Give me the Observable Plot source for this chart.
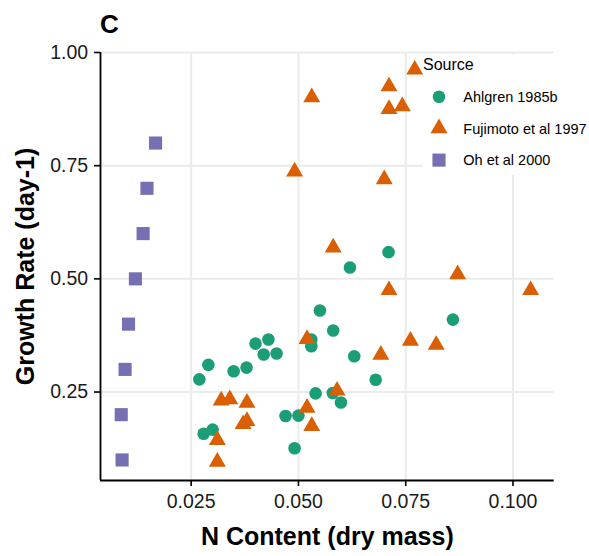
<!DOCTYPE html>
<html>
<head>
<meta charset="utf-8">
<script src="https://cdn.jsdelivr.net/npm/d3@7"></script>
<script src="https://cdn.jsdelivr.net/npm/@observablehq/plot@0.6"></script>
<style>
  html, body { margin: 0; padding: 0; background: white; }
  #wrap { position: relative; width: 589px; height: 556px; font-family: "Liberation Sans", Arial, sans-serif; }
  #title { position: absolute; left: 100px; top: 10.5px; font-size: 26px; font-weight: bold; line-height: 1; }
  #chart { position: absolute; left: 0; top: 40px; }
  #legend { position: absolute; left: 423px; top: 54px; width: 166px; height: 121px; background: white; }
</style>
</head>
<body>
<div id="wrap">
  <div id="title">C</div>
  <div id="chart"></div>
  <div id="legend"></div>
</div>
<script>
// ---- data ----
const sources = ["Ahlgren 1985b", "Fujimoto et al 1997", "Oh et al 2000"];
const colors = ["#1b9e77", "#d95f02", "#7570b3"];
const symbols = ["circle", "triangle", "square"];

const ahlgrenX = [0.0550, 0.0581, 0.0530, 0.0530, 0.0400, 0.0430, 0.0419, 0.0449, 0.0290, 0.0269,
                  0.0349, 0.0379, 0.0540, 0.0580, 0.0599, 0.0470, 0.0500, 0.0491, 0.0279, 0.0300,
                  0.0710, 0.0620, 0.0860, 0.0630, 0.0680];
const ahlgrenY = [0.430, 0.386, 0.366, 0.351, 0.357, 0.366, 0.333, 0.335, 0.310, 0.278,
                  0.296, 0.304, 0.247, 0.248, 0.227, 0.197, 0.198, 0.126, 0.158, 0.167,
                  0.559, 0.525, 0.410, 0.329, 0.277];

const fujimotoX = [0.0771, 0.0711, 0.0531, 0.0711, 0.0742, 0.0491, 0.0700, 0.0581, 0.0711, 0.0871,
                   0.1041, 0.0520, 0.0761, 0.0821, 0.0692, 0.0590, 0.0520, 0.0531, 0.0320, 0.0340,
                   0.0380, 0.0371, 0.0380, 0.0311, 0.0311];
const fujimotoY = [0.962, 0.925, 0.901, 0.875, 0.881, 0.737, 0.720, 0.569, 0.475, 0.510,
                   0.475, 0.367, 0.363, 0.354, 0.332, 0.253, 0.215, 0.175, 0.231, 0.234,
                   0.226, 0.179, 0.186, 0.144, 0.096];

const ohX = [0.0089, 0.0087, 0.0096, 0.0104, 0.0120, 0.0138, 0.0147, 0.0167];
const ohY = [0.10, 0.20, 0.30, 0.40, 0.50, 0.60, 0.70, 0.80];

const xTicks = [0.025, 0.050, 0.075, 0.100];
const yTicks = [0.25, 0.50, 0.75, 1.00];
const xLabel = "N Content (dry mass)";
const yLabel = "Growth Rate (day-1)";
const legendTitle = "Source";

// ---- build tables ----
const toRows = (xs, ys, s) => xs.map((x, i) => ({x, y: ys[i], source: s}));
const ahlgren = toRows(ahlgrenX, ahlgrenY, sources[0]);
const fujimoto = toRows(fujimotoX, fujimotoY, sources[1]);
const oh = toRows(ohX, ohY, sources[2]);

const xDomain = [0.00387, 0.1096];
const yDomain = [0.0546, 1.0];
const sizes = [6.3, 6.3, 7.4];

const chart = Plot.plot({
  width: 589,
  height: 516,
  marginLeft: 100,
  marginRight: 35.3,
  marginTop: 12,
  marginBottom: 76,
  x: {domain: xDomain},
  y: {domain: yDomain},
  style: {fontFamily: "'Liberation Sans', Arial, sans-serif", background: "white", color: "black"},
  marks: [
    Plot.gridX(xTicks, {stroke: "#ebebeb", strokeOpacity: 1, strokeWidth: 2}),
    Plot.gridY(yTicks, {stroke: "#ebebeb", strokeOpacity: 1, strokeWidth: 2}),
    Plot.ruleX([xDomain[0]], {stroke: "black", strokeWidth: 1.8}),
    Plot.ruleY([yDomain[0]], {stroke: "black", strokeWidth: 1.8}),
    Plot.axisX(xTicks, {tickSize: 6, tickPadding: 8, tickFormat: d3.format(".3f"), fontSize: 19.5, label: null, strokeWidth: 1.6, fill: "#1a1a1a"}),
    Plot.axisY(yTicks, {tickSize: 6, tickPadding: 6.3, tickFormat: d3.format(".2f"), fontSize: 19.5, label: null, strokeWidth: 1.6, fill: "#1a1a1a"}),
    Plot.dot(ahlgren, {x: "x", y: "y", fill: colors[0], symbol: symbols[0], r: sizes[0]}),
    Plot.dot(fujimoto, {x: "x", y: "y", fill: colors[1], symbol: symbols[1], r: sizes[1]}),
    Plot.dot(oh, {x: "x", y: "y", fill: colors[2], symbol: symbols[2], r: sizes[2]}),
    Plot.text([xLabel], {frameAnchor: "bottom", textAnchor: "middle", lineAnchor: "bottom", dy: 64, fontSize: 25, fontWeight: "bold", text: d => d}),
    Plot.text([yLabel], {frameAnchor: "left", textAnchor: "middle", lineAnchor: "bottom", rotate: -90, dx: -67, fontSize: 25, fontWeight: "bold", text: d => d})
  ]
});
document.getElementById("chart").appendChild(chart);

// ---- legend ----
const lg = d3.select("#legend").append("svg").attr("width", 166).attr("height", 121)
  .style("font-family", "'Liberation Sans', Arial, sans-serif");
lg.append("text").attr("x", 0).attr("y", 16).attr("font-size", 16).text(legendTitle);
const symMap = {circle: d3.symbolCircle, triangle: d3.symbolTriangle, square: d3.symbolSquare};
sources.forEach((s, i) => {
  const cy = 42.7 + i * 31.7;
  lg.append("path")
    .attr("transform", `translate(16,${cy})`)
    .attr("d", d3.symbol(symMap[symbols[i]], Math.PI * sizes[i] * sizes[i])())
    .attr("fill", colors[i]);
  lg.append("text").attr("x", 40.3).attr("y", cy).attr("dy", "0.36em").attr("font-size", 14.5).text(s);
});
</script>
</body>
</html>
